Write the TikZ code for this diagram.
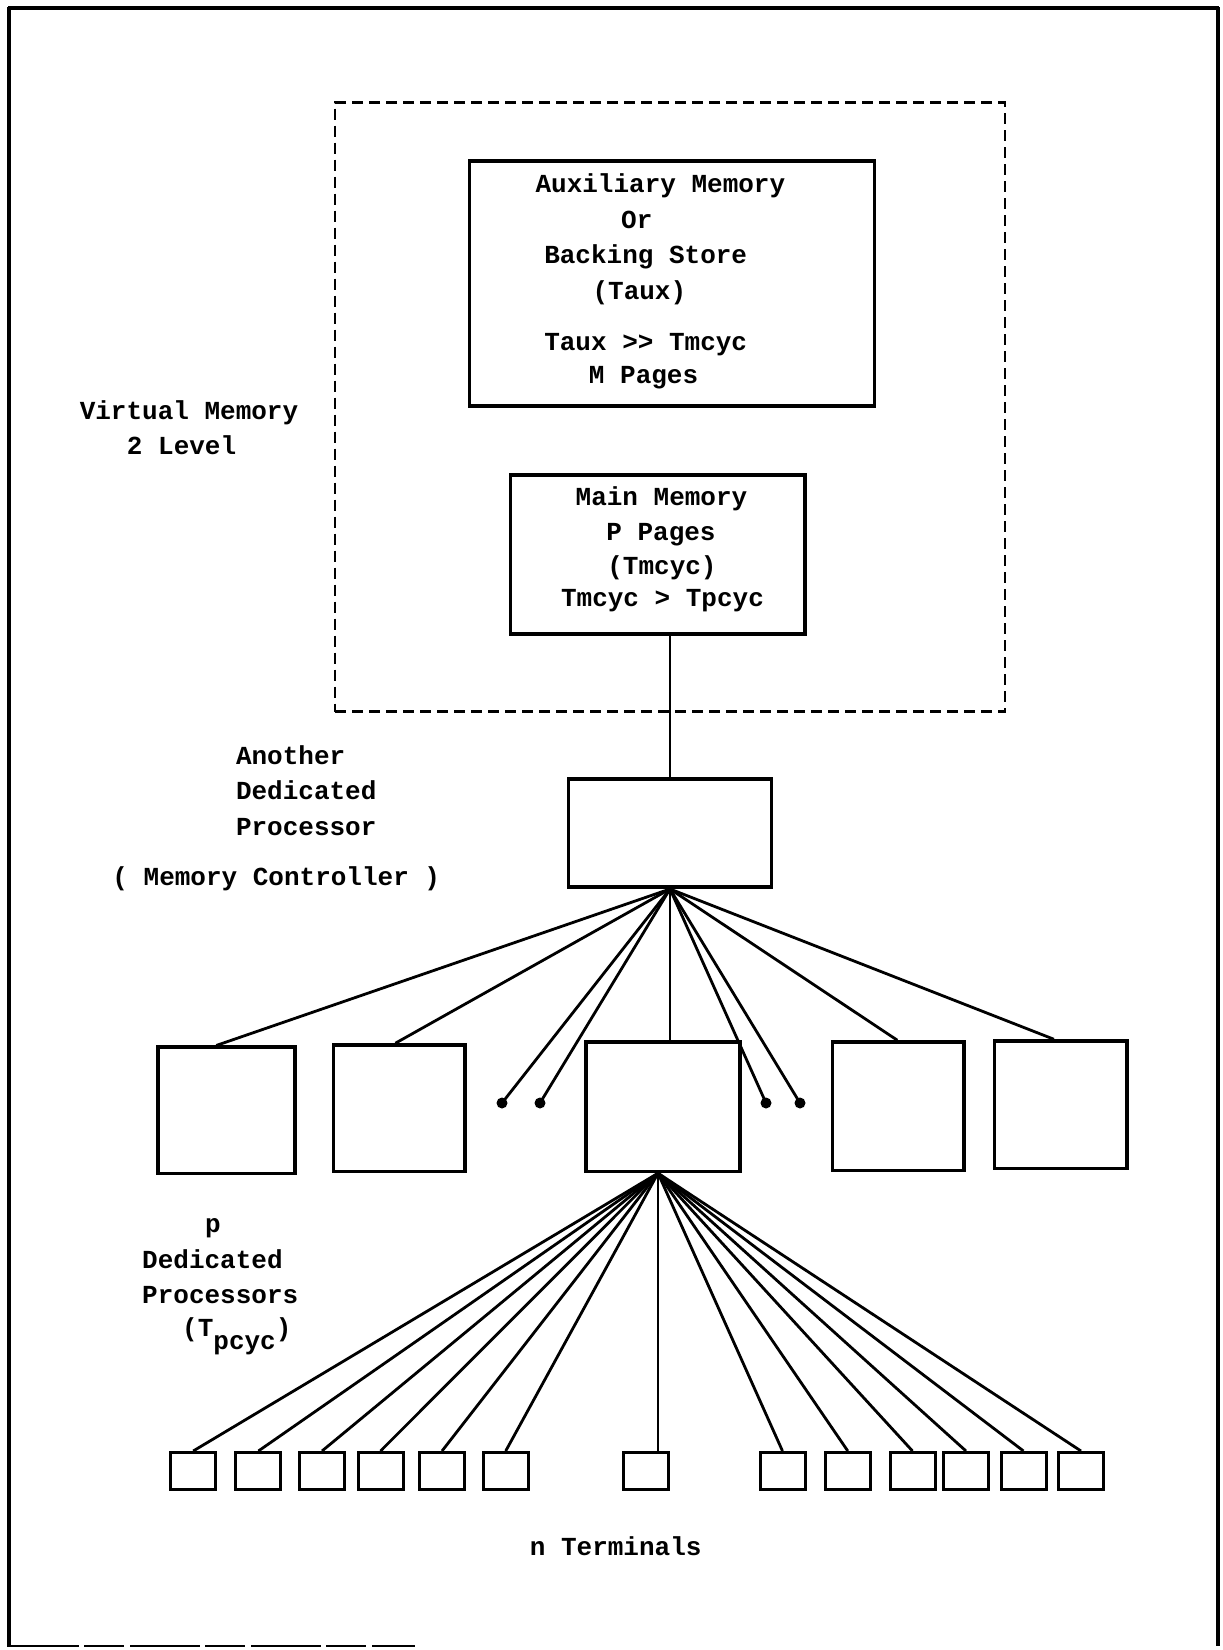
\documentclass[tikz,border=0pt]{standalone}
\usepackage{fontspec}
\newfontfamily\typewriter{Liberation Mono}
\usetikzlibrary{calc}
\begin{document}
\begin{tikzpicture}[x=1pt,y=-1pt,
  box/.style={draw,rectangle,line width=3.6pt,inner sep=0pt},
  term/.style={box,line width=3pt,minimum width=45pt,minimum height=37pt},
  wire/.style={line width=2.8pt},
  thinwire/.style={line width=1.8pt},
  lbl/.style={font=\typewriter\bfseries\fontsize{26}{36}\selectfont,
              inner sep=0pt,text height=16pt,text depth=0pt},
  lbll/.style={lbl,anchor=west},
  frame/.style={line width=3.4pt}]
\useasboundingbox (0,0) rectangle (1223,1650);

% page frame (bottom edge only partly printed)
\draw[frame,line width=4.6pt] (8,8) -- (1219,8);
\draw[frame] (9,7) -- (9,1647);
\draw[frame] (1218,7) -- (1218,1646);
\draw[frame,line width=2.6pt,dash pattern=on 70pt off 5pt on 40pt off 6pt] (9,1646) -- (415,1646);

% virtual memory group
\node[draw,line width=2.9pt,dash pattern=on 11pt off 6pt,rectangle,inner sep=0pt,
      minimum width=670pt,minimum height=609pt] (vm) at (670,407) {};

% auxiliary memory
\node[box,minimum width=405pt,minimum height=245pt] (aux) at (672,283.7) {};
\node[lbl] (aux1) at (660.4,184.2) {Auxiliary Memory};
\node[lbl] (aux2) at (636.8,220.0) {Or};
\node[lbl] (aux3) at (645.7,255.8) {Backing Store};
\node[lbl] (aux4) at (639.4,291.5) {(Taux)};
\node[lbl] (aux5) at (645.7,342.0) {Taux >\kern0pt> Tmcyc};
\node[lbl] (aux6) at (643.6,375.7) {M Pages};

% main memory
\node[box,minimum width=294.5pt,minimum height=159pt] (mm) at (657.8,554.2) {};
\node[lbl] (mm1) at (661.5,497.8) {Main Memory};
\node[lbl] (mm2) at (661.0,532.6) {P Pages};
\node[lbl] (mm3) at (662.0,566.2) {(Tmcyc)};
\node[lbl] (mm4) at (662.5,598.9) {Tmcyc > Tpcyc};

\node[lbl] (vm1) at (189.0,411.5) {Virtual Memory};
\node[lbl] (vm2) at (181.6,446.0) {2 Level};

% memory controller
\node[box,minimum width=203pt,minimum height=108pt] (ctrl) at (670,833.2) {};
\draw[wire] (ctrl.north) -- (ctrl.north |- mm.south);
\node[lbll] (mc1) at (235.8,756.7) {Another};
\node[lbll] (mc2) at (235.8,791.5) {Dedicated};
\node[lbll] (mc3) at (235.8,827.3) {Processor};
\node[lbl] (mc4) at (276.3,877.8) {( Memory Controller )};

% dedicated processors
\node[box,minimum width=136.8pt,minimum height=126.3pt] (p1) at (226.3,1110.4) {};
\node[box,minimum width=131.6pt,minimum height=126.4pt] (p2) at (399.4,1108.2) {};
\node[box,minimum width=153.7pt,minimum height=129.4pt] (p3) at (663.0,1106.7) {};
\node[box,minimum width=131.6pt,minimum height=128.4pt] (p4) at (898.3,1106.2) {};
\node[box,minimum width=132.6pt,minimum height=127.3pt] (p5) at (1060.9,1104.7) {};

\coordinate (hub) at (ctrl.south);
\coordinate (p1in) at ($(p1.north)+(-10,0)$);
\coordinate (p2in) at ($(p2.north)+(-4,0)$);
\coordinate (p4in) at ($(p4.north)+(-1,0)$);
\coordinate (p5in) at ($(p5.north)+(-7,0)$);
\foreach \t in {p1in,p2in,p4in,p5in} \draw[wire] (hub) -- (\t);
\draw[wire] (hub) -- (hub |- p3.north);

% further processors, elided
\coordinate (d1) at (502,1103);
\coordinate (d2) at (540,1103);
\coordinate (d3) at (766,1103);
\coordinate (d4) at (800,1103);
\foreach \d in {d1,d2,d3,d4} {
  \draw[wire] (hub) -- (\d);
  \fill (\d) circle[radius=5.5pt];
}

\node[lbl] (dp1) at (213,1224) {p};
\node[lbll] (dp2) at (142,1260) {Dedicated};
\node[lbll] (dp3) at (142,1295.6) {Processors};
\node[lbll] (dp4) at (182,1328) {(T\raisebox{-13pt}{pcyc})};

% terminals
\foreach \i/\x in {1/193.2,2/258.4,3/322.0,4/380.5,5/442.0,6/505.7,7/645.7,
                   8/782.5,9/847.8,10/912.5,11/966.0,12/1023.5,13/1081.0}
  \node[term] (t\i) at (\x,1471) {};

\coordinate (hub2) at ($(p3.south)+(-5,0)$);
\foreach \i in {1,...,6,8,9,10,11,12,13} \draw[wire] (hub2) -- (t\i.north);
\draw[thinwire] (hub2) -- (hub2 |- t7.north);

\node[lbl] (nt) at (615.7,1547) {n Terminals};
\end{tikzpicture}
\end{document}
